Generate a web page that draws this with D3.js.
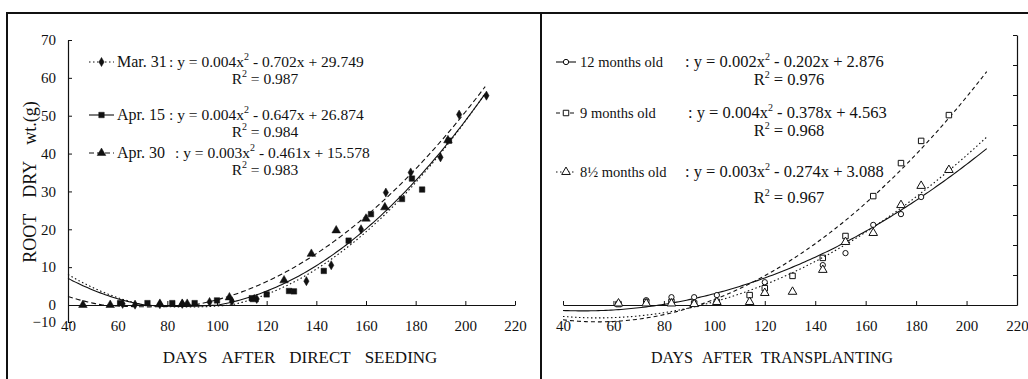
<!DOCTYPE html>
<html>
<head>
<meta charset="utf-8">
<script src="https://cdn.jsdelivr.net/npm/d3@7"></script>
<style>
  html, body { margin: 0; padding: 0; background: #fff; }
  svg { display: block; font-family: "Liberation Serif", "Times New Roman", serif; }
</style>
</head>
<body>
<svg id="fig" width="1028" height="379"></svg>
<script>
// ---- axis ticks ----
const dayTicks = [40, 60, 80, 100, 120, 140, 160, 180, 200, 220];
const weightTicks = [-10, 0, 10, 20, 30, 40, 50, 60, 70];
const rightTicks = [0, 10, 20, 30, 40, 50, 60, 70, 80, 90];

// ---- direct seeding: [days after seeding, root dry wt (g)] ----
const mar31 = [[62, 0.3], [67, 0.1], [77, 0.2], [86, 0.3], [97, 0.8], [106, 1.0], [116, 1.6],
  [136, 6.3], [146, 10.5], [158, 20], [168, 29.7], [178, 35], [190, 39], [197.5, 50.3], [208.5, 55.3]];
const apr15 = [[61, 0.5], [72, 0.5], [82, 0.5], [91, 0.5], [100, 1.2], [114, 1.8], [120, 2.8],
  [129, 3.7], [131, 3.6], [143, 9], [153, 17], [162, 24], [174.5, 28], [178.5, 33.4], [182.6, 30.5], [193.4, 43.4]];
const apr30 = [[46, 0], [57, 0], [77, 0.3], [86, 0.3], [88, 0.3], [105, 2.0], [115, 1.5], [127, 6.5],
  [138, 13.5], [148, 19.7], [160, 22.8], [167.6, 25.8], [193, 43.5]];

// ---- transplanting: [days after transplanting, root dry wt (g)] ----
const months12 = [[62, 0.5], [73, 1.6], [83, 2.6], [92, 2.6], [101, 3.3], [120, 7.6], [143, 13.3],
  [152, 17.3], [163, 26.7], [174, 30.3], [182, 36], [193, 45]];
const months9 = [[62, 0.3], [73, 1.0], [83, 1.0], [92, 0.5], [101, 1.0], [114, 3.3], [120, 5.6],
  [131, 9.7], [143, 15.7], [152, 23], [163, 36.3], [174, 47.3], [182, 54.7], [193, 63.3]];
const months8half = [[62, 0.5], [73, 0.5], [83, 0.5], [92, 0.3], [101, 1.0], [114, 1.0], [120, 4.0],
  [131, 4.4], [143, 11.7], [152, 21], [163, 24], [174, 33.3], [182, 39.7], [193, 45]];

// ---- quadratic trend lines y = a x^2 + b x + c ----
const seedingNames = ["Mar. 31", "Apr. 15", "Apr. 30"];
const seedingA = [0.00398, 0.00378, 0.00319];
const seedingB = [-0.702, -0.647, -0.461];
const seedingC = [29.749, 26.874, 15.578];
const seedingR2 = [0.987, 0.984, 0.983];

const transNames = ["12 months old", "9 months old", "8\u00BD months old"];
const transA = [0.00211, 0.00351, 0.00254];
const transB = [-0.202, -0.378, -0.274];
const transC = [2.876, 4.563, 3.088];
const transR2 = [0.976, 0.968, 0.967];

const trendRange = [40, 208];

const xTitleLeft = ["DAYS", "AFTER", "DIRECT", "SEEDING"];
const xTitleRight = ["DAYS", "AFTER", "TRANSPLANTING"];
const yTitle = ["ROOT", "DRY", "wt.(g)"];

const svg = d3.select("#fig");
const ink = "#111";

// frame
svg.append("line").attr("x1", 6).attr("x2", 1028).attr("y1", 13).attr("y2", 13)
  .attr("stroke", ink).attr("stroke-width", 2);
svg.append("line").attr("x1", 7).attr("x2", 7).attr("y1", 12).attr("y2", 379)
  .attr("stroke", ink).attr("stroke-width", 2);
svg.append("line").attr("x1", 541).attr("x2", 541).attr("y1", 12).attr("y2", 379)
  .attr("stroke", ink).attr("stroke-width", 2);

// ---- scales ----
const xL = d3.scaleLinear().domain([40, 220]).range([68, 515]);
const yL = d3.scaleLinear().domain([-10, 0, 70]).range([322, 305, 40]);
const xR = d3.scaleLinear().domain([40, 220]).range([563, 1017]);
const yR = d3.scaleLinear().domain([0, 90]).range([305, 35]);

function styleAxis(g, size) {
  g.selectAll("path").attr("stroke", ink).attr("stroke-width", 1.2);
  g.selectAll("line").attr("stroke", ink);
  g.selectAll("text").attr("fill", ink).attr("font-size", size)
    .attr("font-family", "Liberation Serif, Times New Roman, serif");
}

// left panel axes
const gxL = svg.append("g").attr("transform", `translate(0,${yL(0)})`)
  .call(d3.axisBottom(xL).tickValues(dayTicks).tickSizeInner(-4).tickSizeOuter(0).tickPadding(15));
styleAxis(gxL, 15);
const gyL = svg.append("g").attr("transform", `translate(${xL(40)},0)`)
  .call(d3.axisLeft(yL).tickValues(weightTicks).tickSizeInner(-4).tickSizeOuter(0).tickPadding(12));
styleAxis(gyL, 15);
gyL.selectAll(".tick").filter(d => d === 0).select("line").remove();

// right panel axes
const gxR = svg.append("g").attr("transform", `translate(0,${yR(0)})`)
  .call(d3.axisBottom(xR).tickValues(dayTicks).tickSizeInner(-4).tickSizeOuter(0).tickPadding(15));
styleAxis(gxR, 15);
const gyR = svg.append("g").attr("transform", `translate(${xR(220)},0)`)
  .call(d3.axisRight(yR).tickValues(rightTicks).tickSizeInner(-4).tickSizeOuter(0).tickFormat(""));
styleAxis(gyR, 15);

// titles (words laid out with wide gaps)
function spacedTitle(g, words, size, gap) {
  const t = g.append("text").attr("font-size", size).attr("fill", ink).attr("text-anchor", "middle");
  words.forEach((w, i) => {
    const s = t.append("tspan").text(w);
    if (i > 0) s.attr("dx", gap);
  });
  return t;
}
spacedTitle(svg.append("g").attr("transform", "translate(300,363)"), xTitleLeft, 17, 14);
spacedTitle(svg.append("g").attr("transform", "translate(772,363)"), xTitleRight, 16, 9);
spacedTitle(svg.append("g").attr("transform", "translate(36,182) rotate(-90)"), yTitle, 18, 16);

// ---- markers ----
const sym = {
  diamond: d3.symbol(d3.symbolDiamond, 24),
  square: d3.symbol(d3.symbolSquare, 30),
  triangle: d3.symbol(d3.symbolTriangle, 32),
  circle: d3.symbol(d3.symbolCircle, 22),
};

function drawSeries(g, pts, coef, xs, ys, opts) {
  const [a, b, c] = coef;
  const xsLine = d3.range(trendRange[0], trendRange[1] + 0.5, 1);
  g.append("path")
    .datum(xsLine)
    .attr("d", d3.line().x(d => xs(d)).y(d => ys(a * d * d + b * d + c)))
    .attr("fill", "none").attr("stroke", ink).attr("stroke-width", 1.1)
    .attr("stroke-dasharray", opts.dash || null);
  g.selectAll(null).data(pts).join("path")
    .attr("transform", d => `translate(${xs(d[0])},${ys(d[1])})`)
    .attr("d", sym[opts.shape]())
    .attr("fill", opts.open ? "#fff" : ink)
    .attr("stroke", ink).attr("stroke-width", opts.open ? 1 : 0.5);
}

const leftStyles = [
  { shape: "diamond", dash: "1.5,2.5" },
  { shape: "square", dash: null },
  { shape: "triangle", dash: "5,3" },
];
const rightStyles = [
  { shape: "circle", dash: null, open: true },
  { shape: "square", dash: "4,3", open: true },
  { shape: "triangle", dash: "1.5,2.5", open: true },
];

const gL = svg.append("g");
[mar31, apr15, apr30].forEach((s, i) =>
  drawSeries(gL, s, [seedingA[i], seedingB[i], seedingC[i]], xL, yL, leftStyles[i]));
const gR = svg.append("g");
[months12, months9, months8half].forEach((s, i) =>
  drawSeries(gR, s, [transA[i], transB[i], transC[i]], xR, yR, rightStyles[i]));

// ---- legends ----
const fmt3 = d3.format(".3f");
function equation(g, x, y, size, a, b, c) {
  const t = g.append("text").attr("x", x).attr("y", y).attr("font-size", size).attr("fill", ink);
  t.append("tspan").text(`: y = ${fmt3(a)}x`);
  t.append("tspan").attr("dy", -7).attr("font-size", 10).text("2");
  t.append("tspan").attr("dy", 7).text(` ${b < 0 ? "-" : "+"} ${fmt3(Math.abs(b))}x + ${fmt3(c)}`);
}
function rsq(g, x, y, size, r) {
  const t = g.append("text").attr("x", x).attr("y", y).attr("font-size", size).attr("fill", ink)
    .attr("text-anchor", "middle");
  t.append("tspan").text("R");
  t.append("tspan").attr("dy", -7).attr("font-size", 10).text("2");
  t.append("tspan").attr("dy", 7).text(` = ${fmt3(r)}`);
}
function sample(g, x, w, y, style) {
  g.append("line").attr("x1", x).attr("x2", x + w).attr("y1", y).attr("y2", y)
    .attr("stroke", ink).attr("stroke-width", 1.1).attr("stroke-dasharray", style.dash);
  g.append("path").attr("transform", `translate(${x + w / 2},${y})`).attr("d", sym[style.shape]())
    .attr("fill", style.open ? "#fff" : ink).attr("stroke", ink).attr("stroke-width", style.open ? 1 : 0.5);
}

const legL = svg.append("g");
const legLY = [67, 120, 158];
const legLColon = [169, 169, 175];
seedingNames.forEach((n, i) => {
  const y = legLY[i];
  sample(legL, 89, 25, y - 5, leftStyles[i]);
  legL.append("text").attr("x", 117).attr("y", y).attr("font-size", 16).attr("fill", ink).text(n);
  equation(legL, legLColon[i], y, 15.5, seedingA[i], seedingB[i], seedingC[i]);
  rsq(legL, 265, y + 17, 15.5, seedingR2[i]);
});

const legR = svg.append("g");
const legRY = [67, 118, 177];
const legRColon = [685, 688, 685];
transNames.forEach((n, i) => {
  const y = legRY[i];
  sample(legR, 556, 20, y - 5, rightStyles[i]);
  legR.append("text").attr("x", 580).attr("y", y).attr("font-size", 14.5).attr("fill", ink).text(n);
  equation(legR, legRColon[i], y, 16.5, transA[i], transB[i], transC[i]);
  rsq(legR, 789, y + 18 + (i === 2 ? 8 : 0), 16.5, transR2[i]);
});
</script>
</body>
</html>
